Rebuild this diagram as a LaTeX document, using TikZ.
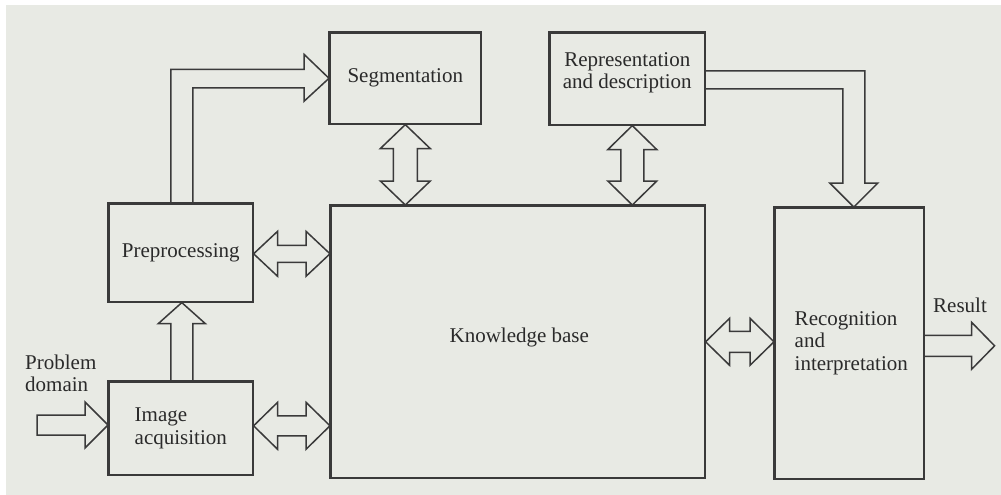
\documentclass[tikz,border=0pt]{standalone}
\usepackage{fontspec}
\setmainfont{Liberation Serif}
\usetikzlibrary{calc}
\definecolor{bg}{HTML}{E8EAE4}
\definecolor{ink}{HTML}{3A3A3A}
\definecolor{txt}{HTML}{2A2A2A}
\tikzset{
  box/.style={draw=ink, line width=1.6pt, rectangle, anchor=north west, inner sep=0pt,
              font=\fontsize{21}{22.5}\selectfont, text=txt, align=center},
  blk/.style={draw=ink, line width=1.5pt, line join=miter, fill=bg},
  lbl/.style={inner sep=0pt, font=\fontsize{21}{22.5}\selectfont, text=txt, align=left},
}
% vertical double block arrow between #1 (top point) and #2 (bottom point)
\newcommand\vdbl[4]{% #1 top, #2 bottom, #3 head half width, #4 shaft half width
  \draw[blk] (#1) -- ($(#1)+(#3,24)$) -- ($(#1)+(#4,24)$) -- ($(#2)+(#4,-24)$) -- ($(#2)+(#3,-24)$)
   -- (#2) -- ($(#2)+(-#3,-24)$) -- ($(#2)+(-#4,-24)$) -- ($(#1)+(-#4,24)$) -- ($(#1)+(-#3,24)$) -- cycle;}
% horizontal double block arrow between #1 (left point) and #2 (right point)
\newcommand\hdbl[4]{%
  \draw[blk] (#1) -- ($(#1)+(24,-#3)$) -- ($(#1)+(24,-#4)$) -- ($(#2)+(-24,-#4)$) -- ($(#2)+(-24,-#3)$)
   -- (#2) -- ($(#2)+(-24,#3)$) -- ($(#2)+(-24,#4)$) -- ($(#1)+(24,#4)$) -- ($(#1)+(24,#3)$) -- cycle;}
\begin{document}
\begin{tikzpicture}[x=1pt,y=-1pt]
\useasboundingbox (0,0) rectangle (1001,495);
\fill[white] (0,0) rectangle (1001,495);
\fill[bg] (6,5) rectangle (1001,495);

% boxes
\node[box, minimum width=151, minimum height=91] (seg) at (329,32) {Segmentation};
\node[box, minimum width=155, minimum height=92] (rep) at (549,32) {Representation\\[-1pt]and description\\[-6pt]};
\node[box, minimum width=144, minimum height=98] (pre) at (108,203) {Preprocessing};
\node[box, minimum width=144, minimum height=93, align=left] (acq) at (108,381) {Image\\acquisition};
\node[box, minimum width=374, minimum height=272] (kb) at (330,205) {\hspace*{3pt}Knowledge base\\[-10pt]};
\node[box, minimum width=149, minimum height=271, align=left] (rec) at (774,207) {\hspace*{4pt}\begin{tabular}{@{}l@{}}Recognition\\and\\interpretation\end{tabular}};

% labels
\node[lbl, anchor=west] (pdl) at (25,373.5) {Problem\\domain};
\node[lbl, anchor=west] (resl) at (933,305) {Result};

% vertical double arrows
\coordinate (a1) at (seg.south);
\coordinate (a2) at (a1 |- kb.north);
\vdbl{a1}{a2}{25}{12}
\coordinate (b1) at ($(rep.south)+(5,0)$);
\coordinate (b2) at (b1 |- kb.north);
\vdbl{b1}{b2}{24.5}{11.5}

% horizontal double arrows
\coordinate (c1) at ($(pre.east)+(0,1)$);
\coordinate (c2) at (kb.west |- c1);
\hdbl{c1}{c2}{22.5}{8.5}
\coordinate (d1) at ($(acq.east)+(0,-2.5)$);
\coordinate (d2) at (kb.west |- d1);
\hdbl{d1}{d2}{23.5}{10}
\coordinate (e1) at (kb.east);
\coordinate (e2) at (rec.west |- e1);
\hdbl{e1}{e2}{23.5}{10.5}

% image acquisition -> preprocessing
\coordinate (f1) at ($(acq.north)+(1,0)$);
\coordinate (f2) at (f1 |- pre.south);
\draw[blk] ($(f1)+(-11,0)$) -- ($(f2)+(-11,21)$) -- ($(f2)+(-23.5,21)$) -- (f2) -- ($(f2)+(23.5,21)$) -- ($(f2)+(11,21)$) -- ($(f1)+(11,0)$);

% problem domain -> image acquisition
\coordinate (pd) at (37,425);
\coordinate (g2) at (acq.west |- pd);
\draw[blk] (pd) ++(0,-10) -- ($(g2)+(-23,-10)$) -- ($(g2)+(-23,-23)$) -- (g2) -- ($(g2)+(-23,23)$) -- ($(g2)+(-23,10)$) -- ($(pd)+(0,10)$) -- cycle;

% recognition -> result
\coordinate (h1) at ($(rec.east)+(0,2.5)$);
\coordinate (res) at ($(h1)+(70,0)$);
\draw[blk] ($(h1)+(0,-10.5)$) -- ($(res)+(-23,-10.5)$) -- ($(res)+(-23,-23.5)$) -- (res) -- ($(res)+(-23,23.5)$) -- ($(res)+(-23,10.5)$) -- ($(h1)+(0,10.5)$);

% preprocessing -> segmentation (L-shaped)
\coordinate (t1) at (seg.west);
\draw[blk] ($(pre.north)+(-10,0)$) |- ($(t1)+(-25,-9)$) -- ($(t1)+(-25,-24)$) -- (t1) -- ($(t1)+(-25,23)$) -- ($(t1)+(-25,9.5)$) -| ($(pre.north)+(12,0)$);

% representation -> recognition (L-shaped)
\coordinate (t2) at ($(rec.north)+(4.5,0)$);
\draw[blk] ($(rep.east)+(0,-8)$) -| ($(t2)+(11,-24)$) -- ($(t2)+(24,-24)$) -- (t2) -- ($(t2)+(-24,-24)$) -- ($(t2)+(-11,-24)$) |- ($(rep.east)+(0,10)$);

% redraw box borders on top
\foreach \n in {seg,rep,pre,acq,kb,rec}{\draw[ink, line width=1.6pt] (\n.north west) rectangle (\n.south east);}
\end{tikzpicture}
\end{document}
